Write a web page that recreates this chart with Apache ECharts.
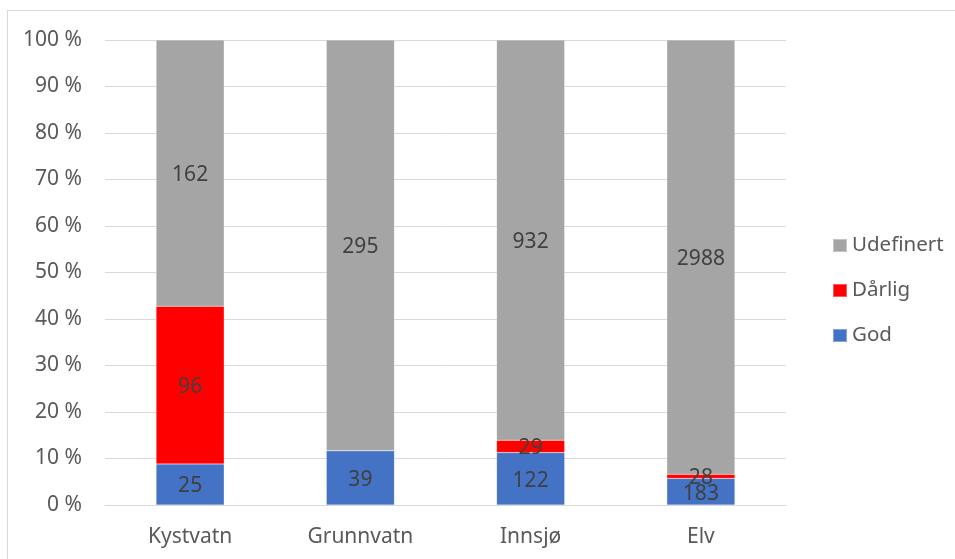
<!DOCTYPE html>
<html>
<head>
<meta charset="utf-8">
<style>
  html, body { margin: 0; padding: 0; background: #fff; }
  #frame { position: absolute; left: 7px; top: 10px; width: 960px; height: 560px; border: 1px solid #d9d9d9; box-sizing: border-box; }
  #chart { position: absolute; left: 0; top: 0; width: 955px; height: 559px; }
</style>
<script src="https://cdn.jsdelivr.net/npm/echarts@6/dist/echarts.min.js"></script>
</head>
<body>
<div id="frame"></div>
<div id="chart"></div>
<script>
// Antall vannforekomster per vanntype og tilstand
const categories = ['Kystvatn', 'Grunnvatn', 'Innsjø', 'Elv'];
const god = [25, 39, 122, 183];
const darlig = [96, 0, 29, 28];
const udefinert = [162, 295, 932, 2988];
const yTicks = [0, 10, 20, 30, 40, 50, 60, 70, 80, 90, 100];

const totals = categories.map((_, i) => god[i] + darlig[i] + udefinert[i]);
const toShare = arr => arr.map((v, i) => ({ value: v / totals[i] * 100, raw: v }));

const FONT = '"Noto Sans", "Open Sans", sans-serif';
const labelStyle = {
  show: true,
  position: 'inside',
  color: '#404040',
  fontSize: 21,
  fontFamily: FONT,
  offset: [0, 2],
  formatter: p => (p.data.raw ? String(p.data.raw) : '')
};

function seriesOf(name, arr, color) {
  return {
    name: name,
    type: 'bar',
    stack: 'total',
    barWidth: '40%',
    data: toShare(arr),
    itemStyle: { color: color, borderColor: 'rgba(255,255,255,0.35)', borderWidth: 0.5 },
    label: labelStyle
  };
}

const chart = echarts.init(document.getElementById('chart'), null, { renderer: 'canvas' });
chart.setOption({
  animation: false,
  grid: { left: 105, right: 169, top: 40, bottom: 54, containLabel: false },
  legend: {
    orient: 'vertical',
    left: 827,
    top: 230,
    itemGap: 24,
    itemWidth: 14,
    itemHeight: 13,
    icon: 'rect',
    data: ['Udefinert', 'Dårlig', 'God'],
    textStyle: { color: '#595959', fontSize: 20.5, fontFamily: FONT, padding: [0, 0, 0, 0] }
  },
  xAxis: {
    type: 'category',
    data: categories,
    axisLine: { lineStyle: { color: '#d9d9d9', width: 1 } },
    axisTick: { show: false },
    axisLabel: { color: '#595959', fontSize: 21, fontFamily: FONT, margin: 22 }
  },
  yAxis: {
    type: 'value',
    min: yTicks[0],
    max: yTicks[yTicks.length - 1],
    interval: 10,
    axisLine: { show: false },
    axisTick: { show: false },
    splitLine: { lineStyle: { color: '#d9d9d9', width: 1 } },
    axisLabel: { color: '#595959', fontSize: 21, fontFamily: FONT, margin: 23, formatter: v => v + ' %' }
  },
  series: [
    seriesOf('God', god, '#4472c4'),
    seriesOf('Dårlig', darlig, '#ff0000'),
    seriesOf('Udefinert', udefinert, '#a5a5a5')
  ]
});
</script>
</body>
</html>
